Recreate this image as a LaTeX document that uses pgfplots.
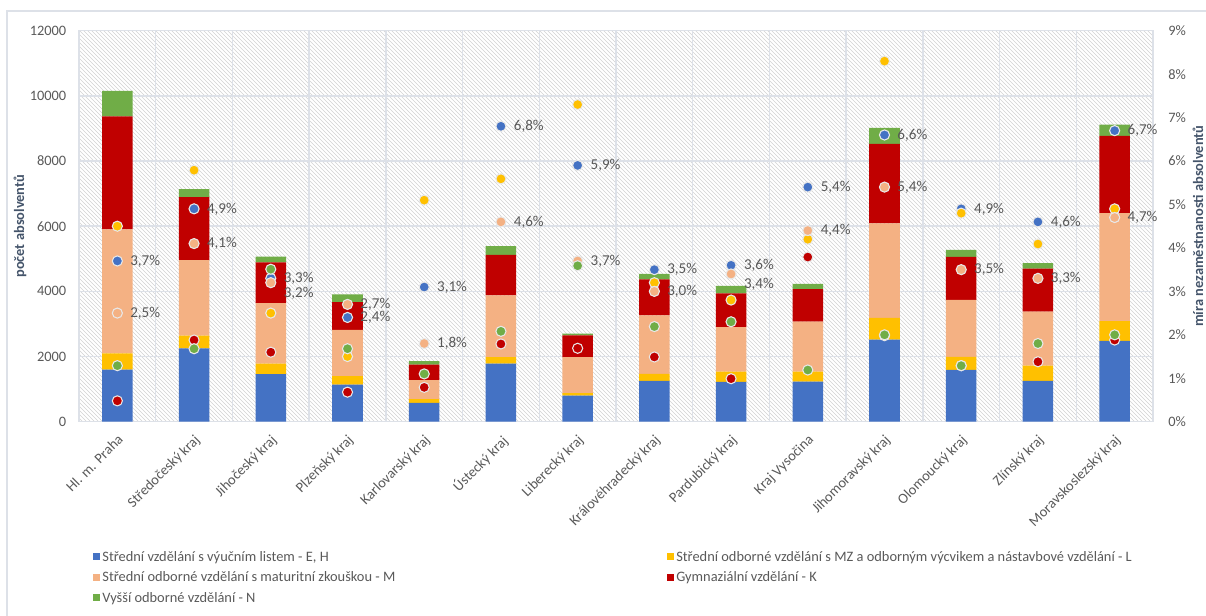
\documentclass[border=0pt]{standalone}
\usepackage{pgfplots}
\pgfplotsset{compat=1.18}
\usepackage{pgfplotstable}
\usepackage{fontspec}
\setmainfont{Carlito}
\usetikzlibrary{patterns}

\definecolor{cE}{HTML}{4472C4}
\definecolor{cL}{HTML}{FFC000}
\definecolor{cM}{HTML}{F4B183}
\definecolor{cK}{HTML}{C00000}
\definecolor{cN}{HTML}{70AD47}
\definecolor{gridc}{HTML}{DDE1E8}
\definecolor{hatchc}{HTML}{D2D2D2}
\definecolor{txt}{HTML}{595959}
\definecolor{ttl}{HTML}{44546A}
\definecolor{ring}{HTML}{E8E8E8}
\newcommand\tf{\fontsize{10.8pt}{13pt}\selectfont}
\newcommand\lf{\fontsize{11.3pt}{13.5pt}\selectfont}

% absolute counts (stacked bars)
\pgfplotstableread{
x E L M K N
0 1600 500 3800 3470 780
1 2250 390 2320 1930 250
2 1460 320 1860 1250 180
3 1140 260 1420 850 240
4 580 110 590 470 110
5 1780 200 1900 1240 270
6 800 80 1100 670 50
7 1250 220 1790 1110 170
8 1220 320 1360 1040 230
9 1230 310 1530 1000 160
10 2520 670 2900 2440 490
11 1590 400 1750 1320 215
12 1250 470 1660 1320 165
13 2480 610 3310 2370 350
}\bars

% unemployment rate in %
\pgfplotstableread{
x E L M K N dyM
0 3.7 4.50 2.5 0.48 1.29 0
1 4.9 5.79 4.1 1.88 1.68 0
2 3.3 2.50 3.2 1.60 3.51 -8
3 2.4 1.50 2.7 0.68 1.68 0
4 3.1 5.10 1.8 0.79 1.10 0
5 6.8 5.59 4.6 1.79 2.08 0
6 5.9 7.30 3.7 1.69 3.59 0
7 3.5 3.20 3.0 1.49 2.19 0
8 3.6 2.80 3.4 0.99 2.30 -7.5
9 5.4 4.20 4.4 3.79 1.19 0
10 6.6 8.30 5.4 1.98 2.00 0
11 4.9 4.80 3.5 1.29 1.29 0
12 4.6 4.09 3.3 1.38 1.80 0
13 6.7 4.90 4.7 1.88 2.00 0
}\rates

\pgfplotsset{
  base/.style={
    at={(0,0)}, anchor=south west,
    scale only axis, width=805.5pt, height=293.25pt,
    xmin=-0.5, xmax=13.5,
    major tick length=0pt, minor tick length=0pt,
    tick label style={font=\tf, text=txt},
    /pgf/number format/assume math mode=true,
  },
  dot/.style={only marks, mark=*, mark size=3.8pt,
    mark options={fill=#1, draw=ring, line width=0.8pt}},
}

\begin{document}
\begin{tikzpicture}
\useasboundingbox (-59.25pt,-144.975pt) rectangle (845.25pt,316.275pt);
\draw[gridc, line width=0.8pt] (-54pt,-160pt) rectangle (860pt,308pt);

\begin{axis}[base,
  ybar stacked, bar width=22.9pt,
  ymin=0, ymax=12000,
  ytick={0,2000,...,12000},
  scaled y ticks=false,
  /pgf/number format/1000 sep={},
  ymajorgrids, xminorgrids,
  minor xtick={0.5,1.5,...,12.5},
  grid style={gridc, line width=1.1pt},
  minor grid style={gridc, line width=1.1pt},
  axis line style={gridc, line width=1.1pt},
  axis background/.style={pattern=north west lines, pattern color=hatchc},
  xtick={0,...,13},
  xticklabels={Hl. m. Praha, Středočeský kraj, Jihočeský kraj, Plzeňský kraj,
    Karlovarský kraj, Ústecký kraj, Liberecký kraj, Královéhradecký kraj,
    Pardubický kraj, Kraj Vysočina, Jihomoravský kraj, Olomoucký kraj,
    Zlínský kraj, Moravskoslezský kraj},
  xticklabel style={xshift=-0.5pt, yshift=-4pt, rotate=45, anchor=north east},
  yticklabel style={xshift=-6pt},
  ylabel={počet absolventů},
  ylabel style={at={(axis description cs:-0.0549,0.5)}, anchor=center,
    font=\tf\bfseries, text=ttl},
  every axis plot post/.append style={
    legend image code/.code={\fill[##1, draw=none] (0pt,-1.6pt) rectangle (5.4pt,3.8pt);}},
  legend columns=2,
  legend cell align=left,
  legend style={at={(axis description cs:0.013,-0.326)}, anchor=north west,
    draw=none, fill=none, inner sep=0pt, font=\tf, text=txt,
    row sep=2.4pt, nodes={inner sep=1.5pt, text height=7.5pt, text depth=2.5pt}},
]
\addplot[fill=cE, draw=none] table[x=x, y=E]{\bars};
\addlegendentry{\makebox[422pt][l]{Střední vzdělání s výučním listem - E, H}}
\addplot[fill=cL, draw=none] table[x=x, y=L]{\bars};
\addlegendentry{Střední odborné vzdělání s MZ a odborným výcvikem a nástavbové vzdělání - L}
\addplot[fill=cM, draw=none] table[x=x, y=M]{\bars};
\addlegendentry{Střední odborné vzdělání s maturitní zkouškou - M}
\addplot[fill=cK, draw=none] table[x=x, y=K]{\bars};
\addlegendentry{Gymnaziální vzdělání - K}
\addplot[fill=cN, draw=none] table[x=x, y=N]{\bars};
\addlegendentry{Vyšší odborné vzdělání - N}
\end{axis}

\begin{axis}[base,
  ymin=0, ymax=9,
  axis y line*=right, axis x line=none,
  y axis line style={draw=none},
  ytick={0,...,9},
  yticklabel={\pgfmathprintnumber{\tick}\%},
  yticklabel style={xshift=8pt},
  ylabel={míra nezaměstnanosti absolventů},
  ylabel style={at={(axis description cs:1.0419,0.5)}, anchor=center,
    rotate=0, font=\tf\bfseries, text=ttl},
  nodes near coords style={font=\lf, text=txt, anchor=west, xshift=6pt},
]
\addplot[dot=cE, nodes near coords={\pgfmathprintnumber[fixed,fixed zerofill,precision=1,use comma]{\pgfplotspointmeta}\%}]
  table[x=x, y=E]{\rates};
\addplot[dot=cL] table[x=x, y=L]{\rates};
\addplot[dot=cM, visualization depends on={\thisrow{dyM} \as \dy},
  nodes near coords={\pgfmathprintnumber[fixed,fixed zerofill,precision=1,use comma]{\pgfplotspointmeta}\%},
  every node near coord/.append style={yshift=\dy pt}]
  table[x=x, y=M]{\rates};
\addplot[dot=cK] table[x=x, y=K]{\rates};
\addplot[dot=cN] table[x=x, y=N]{\rates};
\end{axis}
\end{tikzpicture}
\end{document}
